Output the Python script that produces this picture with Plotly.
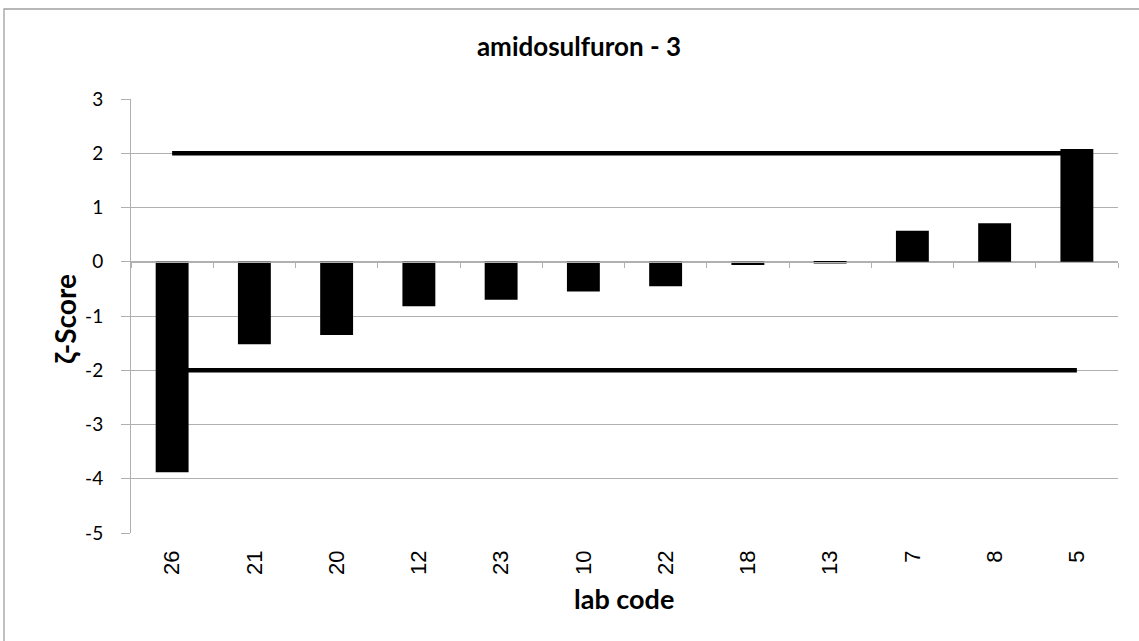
import plotly.graph_objects as go

lab_codes = ["26", "21", "20", "12", "23", "10", "22", "18", "13", "7", "8", "5"]
zeta_scores = [-3.88, -1.52, -1.35, -0.82, -0.70, -0.55, -0.45, -0.06, -0.03, 0.57, 0.71, 2.08]
upper_limit = [2, 2]
lower_limit = [-2, -2]
limit_x = [lab_codes[0], lab_codes[-1]]
y_ticks = [3, 2, 1, 0, -1, -2, -3, -4, -5]

W, H = 1139, 641
ml, mr, mt, mb = 131, 21, 99, 108
pw, ph = W - ml - mr, H - mt - mb

def px_x(p):
    return (p - ml) / pw

def px_y(p):
    return (H - mb - p) / ph

grid = "#b0b0b0"
calib = "Lato, 'Open Sans', sans-serif"

fig = go.Figure()
fig.add_trace(go.Bar(x=lab_codes, y=zeta_scores, marker=dict(color="black", line=dict(width=0)),
                     width=0.4, showlegend=False, hoverinfo="x+y"))
fig.add_trace(go.Scatter(x=limit_x, y=upper_limit, mode="lines", xaxis="x2",
                         line=dict(color="black", width=4.5), showlegend=False))
fig.add_trace(go.Scatter(x=limit_x, y=lower_limit, mode="lines", xaxis="x2",
                         line=dict(color="black", width=4.5), showlegend=False))

zero_pos = (0 - (-5)) / 8.0

fig.update_layout(
    width=W, height=H,
    margin=dict(l=ml, r=mr, t=mt, b=mb),
    paper_bgcolor="white", plot_bgcolor="white",
    title=dict(text="<b>amidosulfuron - 3</b>", xref="container", yref="container",
               x=579 / W, xanchor="center", y=1 - 47 / H, yanchor="middle",
               font=dict(family=calib, size=26, color="black")),
    xaxis=dict(type="category", categoryorder="array", categoryarray=lab_codes,
               range=[-0.5, len(lab_codes) - 0.5],
               showgrid=False, showline=False, ticks="", zeroline=False,
               tickangle=-90, ticklabelstandoff=12,
               tickfont=dict(family="Liberation Sans, Arial", size=22, color="black")),
    xaxis2=dict(type="category", categoryorder="array", categoryarray=lab_codes,
                range=[-0.5, len(lab_codes) - 0.5], overlaying="x",
                anchor="free", position=zero_pos, side="bottom",
                showgrid=False, showline=True, linecolor=grid, linewidth=1,
                ticks="outside", tickson="boundaries", ticklen=5, tickcolor=grid,
                showticklabels=False, zeroline=False),
    yaxis=dict(range=[-5, 3], tickvals=y_ticks, ticktext=[str(v) for v in y_ticks],
               showgrid=True, gridcolor=grid, gridwidth=1,
               showline=True, linecolor=grid, linewidth=1,
               ticks="outside", ticklen=9, tickcolor=grid,
               zeroline=False, ticklabelstandoff=14,
               tickfont=dict(family=calib, size=19, color="black")),
    annotations=[
        dict(text="<b>ζ-Score</b>", xref="paper", yref="paper", x=px_x(65), y=px_y(319),
             xanchor="center", yanchor="middle", textangle=-90, showarrow=False,
             font=dict(family=calib, size=28, color="black")),
        dict(text="<b>lab code</b>", xref="paper", yref="paper", x=px_x(624), y=px_y(598),
             xanchor="center", yanchor="middle", showarrow=False,
             font=dict(family=calib, size=27, color="black")),
    ],
    shapes=[dict(type="rect", xref="paper", yref="paper",
                 x0=px_x(4), x1=px_x(W + 10), y0=px_y(H + 10), y1=px_y(9),
                 line=dict(color="#a0a0a0", width=1.3), fillcolor="rgba(0,0,0,0)", layer="below")],
)

fig.write_html("out.html", config={"displayModeBar": False},
               post_script="document.body.style.margin='0px';")
